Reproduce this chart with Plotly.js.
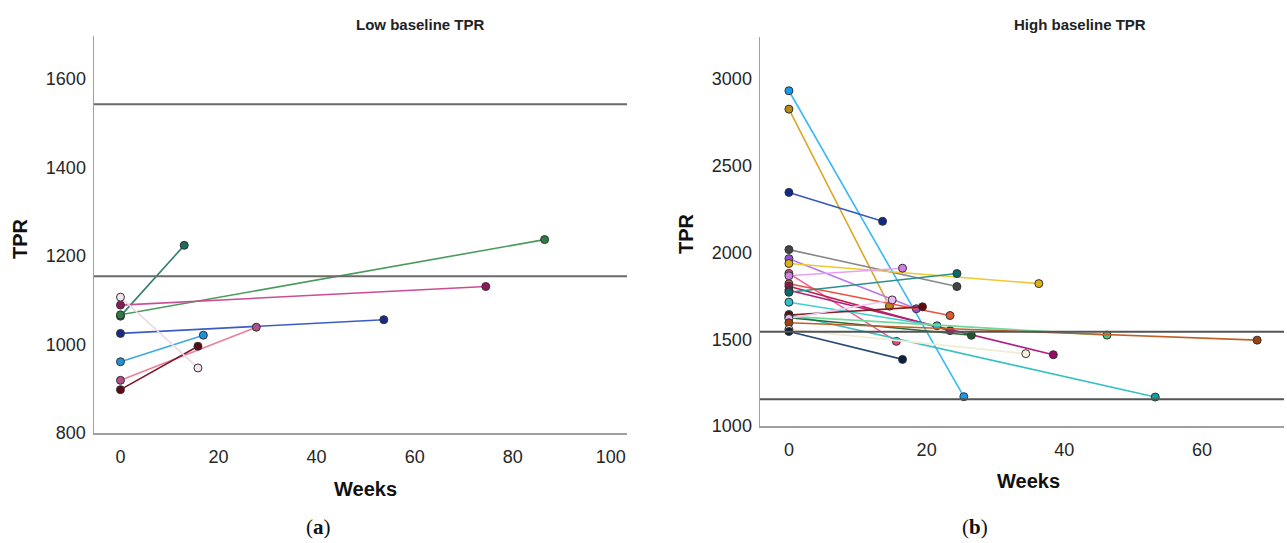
<!DOCTYPE html>
<html>
<head>
<meta charset="utf-8">
<script src="https://cdn.plot.ly/plotly-3.0.1.min.js"></script>
<style>
  html, body { margin: 0; padding: 0; background: #ffffff; }
  #chart { width: 1287px; height: 543px; }
</style>
</head>
<body>
<div id="chart"></div>
<script>
// ---------- Data ----------
// Panel (a): Low baseline TPR — each subject: baseline at week 0, follow-up at endWeek
const lowStartWeek = [0, 0, 0, 0, 0, 0, 0, 0];
const lowStartTPR  = [1064, 1067, 1089, 1025, 961, 919, 898, 1107];
const lowEndWeek   = [13, 86.5, 74.5, 53.7, 16.9, 27.7, 15.8, 15.8];
const lowEndTPR    = [1224, 1237, 1131, 1056, 1021, 1039, 996, 947];

// Panel (b): High baseline TPR
const highStartWeek = [0,0,0,0,0,0,0,0,0,0,0,0,0,0,0,0,0,0,0,0,0];
const highStartTPR  = [2933, 2827, 2347, 2017, 1965, 1937, 1880, 1866, 1820, 1806, 1783,
                       1771, 1714, 1643, 1624, 1632, 1640, 1620, 1595, 1557, 1545];
const highEndWeek   = [25.4, 14.6, 13.6, 24.4, 18.5, 36.3, 15.6, 16.5, 23.4, 23.4, 38.4,
                       24.4, 21.5, 53.2, 26.5, 46.2, 19.4, 15.0, 68.0, 34.4, 16.5];
const highEndTPR    = [1169, 1691, 2180, 1804, 1676, 1821, 1488, 1910, 1637, 1550, 1411,
                       1879, 1578, 1167, 1523, 1524, 1687, 1727, 1495, 1417, 1384];

// Reference threshold lines (TPR)
const refLinesTPR = [1154, 1543];

// Axis tick labels
const lowXTicks  = [0, 20, 40, 60, 80, 100];
const lowYTicks  = [800, 1000, 1200, 1400, 1600];
const highXTicks = [0, 20, 40, 60];
const highYTicks = [1000, 1500, 2000, 2500, 3000];

// ---------- Styles ----------
const lowLineColors   = ['#2f7f70', '#4c9a5c', '#cc4c94', '#3a5cc8', '#3aa8ea', '#ea7f9c', '#7a1a2a', '#eadae6'];
const lowMarkerColors = ['#1d6b5a', '#2f7a45', '#8a1a5a', '#1a2a8a', '#2090d8', '#b05088', '#5a0a14', '#f2e4ee'];

const highLineColors = ['#38b8f8', '#d8a828', '#3858c0', '#888888', '#b878f0', '#f0c830', '#f06090',
                        '#e8a0f0', '#f05040', '#c02050', '#b02080', '#2a9090', '#40d0d0', '#38c0c0',
                        '#2a6a3a', '#70d898', '#802020', '#f0c8f0', '#c06028', '#f0ecd8', '#2a4a70'];
const highMarkerColors = ['#1a9ae8', '#b88a10', '#102a88', '#444444', '#9050d8', '#e0b010', '#e04880',
                          '#d080e0', '#e05a30', '#a01050', '#980a68', '#0a6a6a', '#30c0c8', '#10a0a0',
                          '#1a5a2a', '#50c078', '#600a10', '#e8b8f0', '#a04010', '#f4f0e0', '#0a2040'];

const FONT = 'Liberation Sans, Arial, sans-serif';

const traces = [];
function addSeries(sw, sv, ew, ev, lc, mc, xa, ya) {
  for (let i = 0; i < sv.length; i++) {
    traces.push({
      type: 'scatter', mode: 'lines+markers',
      x: [sw[i], ew[i]], y: [sv[i], ev[i]],
      xaxis: xa, yaxis: ya,
      line: { color: lc[i], width: 1.6 },
      marker: { color: mc[i], size: 8, line: { color: '#333333', width: 1 } },
      showlegend: false, hoverinfo: 'x+y'
    });
  }
}
addSeries(lowStartWeek, lowStartTPR, lowEndWeek, lowEndTPR, lowLineColors, lowMarkerColors, 'x', 'y');
addSeries(highStartWeek, highStartTPR, highEndWeek, highEndTPR, highLineColors, highMarkerColors, 'x2', 'y2');

const W = 1287, H = 543;
const px = v => v / W;
const py = v => 1 - v / H;

const axisCommon = {
  showgrid: false, zeroline: false, showline: true,
  linecolor: '#a0a0a0', linewidth: 1.5, mirror: false,
  ticks: 'outside', tickcolor: 'rgba(0,0,0,0)',
  tickfont: { family: FONT, size: 18, color: '#262626' },
  fixedrange: true
};

const shapes = [];
refLinesTPR.forEach(v => {
  shapes.push({ type: 'line', xref: 'x domain', yref: 'y', x0: 0, x1: 1, y0: v, y1: v,
                line: { color: '#6a6a6a', width: 2 } });
  shapes.push({ type: 'line', xref: 'x2 domain', yref: 'y2', x0: 0, x1: 1, y0: v, y1: v,
                line: { color: '#555555', width: 2 } });
});

const ann = (text, x, y, size, opts) => Object.assign({
  text: text, xref: 'paper', yref: 'paper', x: px(x), y: py(y),
  xanchor: 'center', yanchor: 'middle', showarrow: false,
  font: { family: FONT, size: size, color: '#111111' }
}, opts || {});

const layout = {
  width: W, height: H,
  margin: { l: 0, r: 0, t: 0, b: 0 },
  paper_bgcolor: '#ffffff', plot_bgcolor: '#ffffff',
  showlegend: false,
  xaxis: Object.assign({}, axisCommon, {
    domain: [px(94), px(627)], range: [-5.4, 103.3],
    tickvals: lowXTicks, ticklen: 7, anchor: 'y'
  }),
  yaxis: Object.assign({}, axisCommon, {
    domain: [py(433), py(36)], range: [800, 1697],
    tickvals: lowYTicks, ticklen: 3, anchor: 'x'
  }),
  xaxis2: Object.assign({}, axisCommon, {
    domain: [px(760), px(1284)], range: [-4.2, 71.9],
    tickvals: highXTicks, ticklen: 7, anchor: 'y2'
  }),
  yaxis2: Object.assign({}, axisCommon, {
    domain: [py(426), py(37)], range: [1000, 3243],
    tickvals: highYTicks, ticklen: 3, anchor: 'x2'
  }),
  shapes: shapes,
  annotations: [
    ann('<b>Low baseline TPR</b>', 420, 25, 15, { font: { family: FONT, size: 15, color: '#222222' } }),
    ann('<b>High baseline TPR</b>', 1080, 25, 15, { font: { family: FONT, size: 15, color: '#222222' } }),
    ann('<b>Weeks</b>', 366, 489, 20),
    ann('<b>Weeks</b>', 1028, 481, 20),
    ann('<b>TPR</b>', 20, 239, 20, { textangle: -90 }),
    ann('<b>TPR</b>', 686, 234, 20, { textangle: -90 }),
    ann('(<b>a</b>)', 318, 527, 21, { font: { family: 'Liberation Serif, Times New Roman, serif', size: 21, color: '#111111' } }),
    ann('(<b>b</b>)', 975, 527, 21, { font: { family: 'Liberation Serif, Times New Roman, serif', size: 21, color: '#111111' } })
  ]
};

Plotly.newPlot('chart', traces, layout, { staticPlot: true, displayModeBar: false });
</script>
</body>
</html>
